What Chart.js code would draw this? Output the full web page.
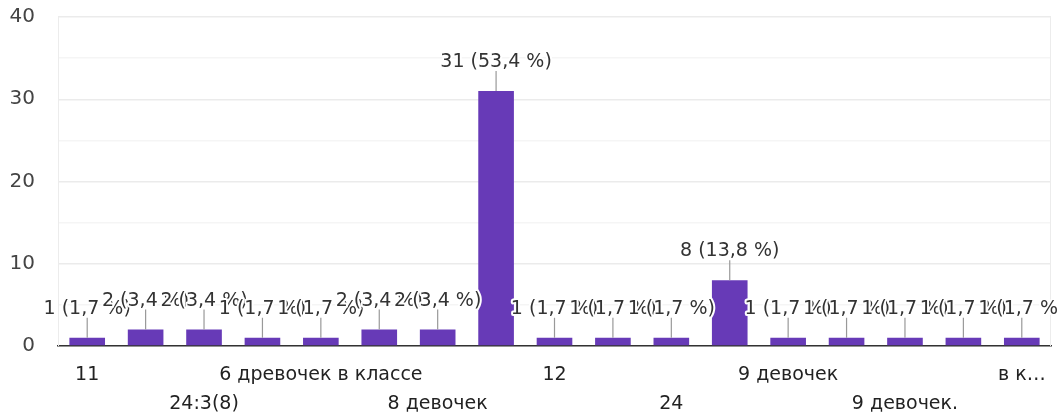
<!DOCTYPE html>
<html lang="ru">
<head>
<meta charset="UTF-8">
<title>Ответы</title>
<script src="https://cdn.jsdelivr.net/npm/chart.js"></script>
<style>
  html, body { margin: 0; padding: 0; background: #fff; }
  #wrap { width: 1059px; height: 414px; }
</style>
</head>
<body>
<div id="wrap"><canvas id="otvety"></canvas></div>
<script>
// ответы (подписи скрытых столбцов не видны на картинке)
const categories = ['11', '', '24:3(8)', '', '6 древочек в классе', '', '8 девочек', '',
  '12', '', '24', '', '9 девочек', '', '9 девочек.', '', 'в к…'];
const counts = [1, 2, 2, 1, 1, 2, 2, 31, 1, 1, 1, 8, 1, 1, 1, 1, 1];
const yTicks = [0, 10, 20, 30, 40];

const total = counts.reduce((a, b) => a + b, 0);
const FONT = "'DejaVu Sans', sans-serif";

// подписи над столбцами с выноской, как в Google Forms
const annotations = {
  id: 'annotations',
  afterDatasetsDraw(chart) {
    const ctx = chart.ctx;
    const meta = chart.getDatasetMeta(0);
    ctx.save();
    ctx.font = '19px ' + FONT;
    ctx.textAlign = 'center';
    ctx.textBaseline = 'alphabetic';
    meta.data.forEach((bar, i) => {
      const v = counts[i];
      const pct = (v / total * 100).toFixed(1).replace('.', ',');
      const txt = v + ' (' + pct + ' %)';
      const top = bar.y - 20;
      ctx.strokeStyle = '#999';
      ctx.lineWidth = 1.2;
      ctx.beginPath();
      ctx.moveTo(bar.x, bar.y);
      ctx.lineTo(bar.x, top);
      ctx.stroke();
      ctx.lineJoin = 'round';
      ctx.strokeStyle = '#fff';
      ctx.lineWidth = 4;
      ctx.strokeText(txt, bar.x, top - 4);
      ctx.fillStyle = '#333';
      ctx.fillText(txt, bar.x, top - 4);
    });
    ctx.restore();
  }
};

const frame = {
  id: 'frame',
  beforeDatasetsDraw(chart) {
    const a = chart.chartArea, ctx = chart.ctx;
    ctx.save();
    ctx.strokeStyle = '#ececec';
    ctx.lineWidth = 1;
    ctx.beginPath();
    ctx.moveTo(a.left + 0.5, a.bottom);
    ctx.lineTo(a.left + 0.5, a.top);
    ctx.moveTo(a.right - 0.5, a.top);
    ctx.lineTo(a.right - 0.5, a.bottom);
    ctx.stroke();
    ctx.restore();
  }
};

new Chart(document.getElementById('otvety'), {
  type: 'bar',
  data: {
    labels: categories,
    datasets: [{
      data: counts,
      backgroundColor: '#673ab7',
      borderWidth: 0,
      barPercentage: 0.61,
      categoryPercentage: 1
    }]
  },
  options: {
    responsive: true,
    maintainAspectRatio: false,
    animation: false,
    layout: { padding: { top: 17, right: 8, left: 0, bottom: 0 } },
    plugins: { legend: { display: false }, tooltip: { enabled: false } },
    scales: {
      x: {
        grid: { display: false },
        border: { color: '#333', width: 1.5 },
        ticks: {
          autoSkip: false,
          maxRotation: 0,
          minRotation: 0,
          padding: 7,
          color: '#222',
          font: { size: 19, family: FONT, lineHeight: 1.5 },
          callback: (val, i) => {
            if (i % 2) return '';
            return (i / 2) % 2 ? ['', categories[i]] : categories[i];
          }
        },
        afterFit: s => { s.height = 68; }
      },
      y: {
        min: yTicks[0],
        max: yTicks[yTicks.length - 1],
        border: { display: false },
        grid: {
          drawTicks: false,
          color: c => (c.tick.value % 10 === 0 ? '#ebebeb' : '#f5f5f5'),
          lineWidth: 1.5
        },
        ticks: {
          stepSize: 5,
          padding: 23,
          color: '#444',
          font: { size: 20, family: FONT },
          callback: v => (yTicks.includes(v) ? v : '')
        },
        afterFit: s => {
          s.width = 58;
          s.paddingTop = 0;
          s.paddingBottom = 0;
        }
      }
    }
  },
  plugins: [frame, annotations]
});
</script>
</body>
</html>
